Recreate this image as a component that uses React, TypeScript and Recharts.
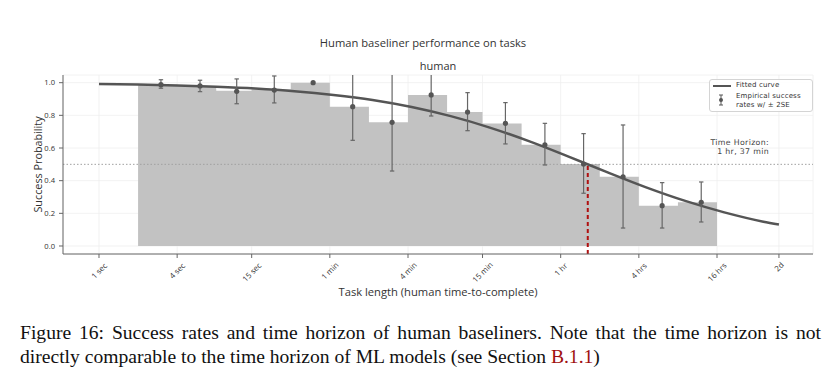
import React from 'react';
import {
  ComposedChart,
  Area,
  Line,
  Scatter,
  XAxis,
  YAxis,
  CartesianGrid,
  ReferenceLine,
} from 'recharts';

// ---- data (time values in seconds) ----
const tickSeconds = [1, 4, 15, 60, 240, 900, 3600, 14400, 57600, 172800];
const tickLabels = ['1 sec', '4 sec', '15 sec', '1 min', '4 min', '15 min', '1 hr', '4 hrs', '16 hrs', '2d'];
const yTicks = [0, 0.2, 0.4, 0.6, 0.8, 1.0];

const binEdgesSec = [2, 4, 8, 15, 30, 60, 120, 240, 480, 900, 1800, 3600, 7200, 14400, 28800, 57600];
const binRates = [0.988, 0.98, 0.95, 0.96, 1.0, 0.853, 0.757, 0.925, 0.82, 0.75, 0.62, 0.502, 0.424, 0.247, 0.268];

const pointSec = [3, 6, 11.5, 22.4, 44.6, 90, 181, 362, 690, 1351, 2721, 5404, 10884, 21770, 43540];
const pointRates = [0.988, 0.98, 0.947, 0.955, 1.0, 0.853, 0.757, 0.925, 0.82, 0.751, 0.62, 0.502, 0.424, 0.247, 0.268];
const errLow = [0.022, 0.035, 0.076, 0.079, 0, 0.206, 0.298, 0.129, 0.114, 0.126, 0.124, 0.179, 0.314, 0.137, 0.121];
const errHigh = [0.03, 0.035, 0.076, 0.086, 0, 0.206, 0.298, 0.129, 0.119, 0.127, 0.131, 0.186, 0.317, 0.141, 0.124];

const curveSec = [1, 2, 4, 8, 16, 32, 64, 128, 256, 512, 1024, 2048, 4096, 8192, 16384, 32768, 65536, 131072, 172800];
const curveProb = [0.992, 0.9885, 0.983, 0.975, 0.964, 0.948, 0.925, 0.894, 0.851, 0.795, 0.725, 0.642, 0.549, 0.452, 0.359, 0.276, 0.206, 0.149, 0.131];

const horizonSec = 5820; // 1 hr, 37 min
const horizonProb = 0.5;

const Y_MIN = -0.049;
const Y_MAX = 1.047;

// ---- derived tables ----
const lg = (s: number) => Math.log2(s);
const tickX = tickSeconds.map(lg);
const barData = binEdgesSec.map((s, i) => ({ x: lg(s), v: binRates[Math.min(i, binRates.length - 1)] }));
const pointData = pointSec.map((s, i) => ({ x: lg(s), y: pointRates[i] }));
const errorSegments = pointSec
  .map((s, i) => ({ i, lo: pointRates[i] - errLow[i], hi: pointRates[i] + errHigh[i], x: lg(s) }))
  .filter((e) => e.hi > e.lo)
  .map((e) => ({ key: e.i, data: [{ x: e.x, e: e.lo }, { x: e.x, e: e.hi }] }));
const curveData = curveSec.map((s, i) => ({ x: lg(s), p: curveProb[i] }));
const labelFor = (v: number) => {
  const i = tickX.findIndex((t) => Math.abs(t - v) < 1e-6);
  return i >= 0 ? tickLabels[i] : '';
};

const FONT = '"Open Sans", "DejaVu Sans", sans-serif';
const SMALL_FONT = '"DejaVu Sans", "Open Sans", sans-serif';
const TICK_FS = 7.8;

const XTick = (props: any) => {
  const { x, y, payload } = props;
  const text = labelFor(payload.value);
  const L = text.length * 0.5 * TICK_FS;
  const w = (L + TICK_FS) * 0.707;
  const cy = y + w / 2;
  return (
    <text
      x={x}
      y={cy}
      textAnchor="middle"
      dominantBaseline="central"
      fontSize={TICK_FS}
      fill="#333"
      transform={`rotate(-45, ${x}, ${cy})`}
    >
      {text}
    </text>
  );
};

const Dot = (props: any) => <circle cx={props.cx} cy={props.cy} r={2.6} fill="#555" />;
const Cap = (props: any) => {
  const v = props.payload ? props.payload.e : props.value;
  if (v > Y_MAX || v < Y_MIN) return <g key={`${props.cx}-${props.cy}`} />;
  return (
    <line
      key={`${props.cx}-${props.cy}`}
      x1={props.cx - 2.2}
      x2={props.cx + 2.2}
      y1={props.cy}
      y2={props.cy}
      stroke="#666"
      strokeWidth={1.2}
    />
  );
};

const Txt = ({ cx, cy, size, children, color = '#333' }: any) => (
  <div
    style={{
      position: 'absolute',
      left: cx - 300,
      width: 600,
      top: cy - size * 0.6,
      lineHeight: `${size * 1.2}px`,
      fontSize: size,
      textAlign: 'center',
      color,
      whiteSpace: 'nowrap',
    }}
  >
    {children}
  </div>
);

const Abs = ({ left, top, size, children, right, color = '#333', lh, ls = 0, font }: any) => {
  const lineH = lh ?? size * 1.2;
  return (
    <div
      style={{
        position: 'absolute',
        left: right !== undefined ? right - 200 : left,
        width: right !== undefined ? 200 : undefined,
        top: top - lineH / 2,
        fontSize: size,
        fontFamily: font,
        lineHeight: `${lineH}px`,
        letterSpacing: ls,
        textAlign: right !== undefined ? 'right' : 'left',
        whiteSpace: 'nowrap',
        color,
      }}
    >
      {children}
    </div>
  );
};

export default function App() {
  return (
    <div
      style={{
        position: 'absolute',
        left: 0,
        top: 0,
        width: 834,
        height: 379,
        background: '#fff',
        fontFamily: FONT,
        overflow: 'hidden',
      }}
    >
      <div style={{ position: 'absolute', left: 0, top: 0 }}>
        <ComposedChart width={834} height={310} margin={{ top: 75, right: 21, bottom: 16, left: 33 }}>
          <CartesianGrid stroke="#efefef" strokeWidth={0.8} />
          <XAxis
            type="number"
            dataKey="x"
            domain={[-0.921, 18.27]}
            allowDataOverflow
            ticks={tickX}
            interval={0}
            tick={<XTick />}
            tickSize={4}
            tickMargin={3}
            height={40}
            stroke="#666"
            axisLine={{ stroke: '#666', strokeWidth: 1 }}
            tickLine={{ stroke: '#666' }}
          />
          <YAxis
            type="number"
            domain={[Y_MIN, Y_MAX]}
            allowDataOverflow
            ticks={yTicks}
            interval={0}
            tickFormatter={(v: number) => v.toFixed(1)}
            tick={{ fontSize: 7.6, fill: '#333' }}
            tickSize={4}
            tickMargin={4}
            width={30}
            axisLine={{ stroke: '#666', strokeWidth: 1 }}
            tickLine={{ stroke: '#666' }}
          />
          <Area
            data={barData}
            dataKey="v"
            type="stepAfter"
            baseValue={0}
            fill="#c2c2c2"
            fillOpacity={1}
            stroke="none"
            isAnimationActive={false}
          />
          <ReferenceLine y={horizonProb} stroke="#a0a0a0" strokeDasharray="1.5 2" strokeWidth={1} />
          <ReferenceLine
            segment={[
              { x: lg(horizonSec), y: Y_MIN },
              { x: lg(horizonSec), y: horizonProb },
            ]}
            stroke="#b01010"
            strokeWidth={2}
            strokeDasharray="4 3"
            ifOverflow="visible"
          />
          <Line
            data={curveData}
            dataKey="p"
            type="monotone"
            stroke="#555"
            strokeWidth={2.5}
            dot={false}
            activeDot={false}
            isAnimationActive={false}
          />
          {errorSegments.map((seg) => (
            <Line
              key={seg.key}
              data={seg.data}
              dataKey="e"
              stroke="#666"
              strokeWidth={1.2}
              dot={<Cap />}
              activeDot={false}
              isAnimationActive={false}
            />
          ))}
          <Scatter data={pointData} dataKey="y" shape={<Dot />} isAnimationActive={false} />
        </ComposedChart>
      </div>

      <Txt cx={423} cy={43} size={11.2}>Human baseliner performance on tasks</Txt>
      <Txt cx={438} cy={66} size={11}>human</Txt>
      <Txt cx={438} cy={292} size={11.2}>Task length (human time-to-complete)</Txt>
      <div
        style={{
          position: 'absolute',
          left: 37 - 100,
          top: 164 - 6.5,
          width: 200,
          lineHeight: '13px',
          fontSize: 10.8,
          textAlign: 'center',
          color: '#333',
          transform: 'rotate(-90deg)',
          transformOrigin: '100px 6.5px',
        }}
      >
        Success Probability
      </div>

      {/* time horizon annotation */}
      <Abs right={769} top={142.5} size={7.8} lh={9} ls={0.35} font={SMALL_FONT} color="#444">Time Horizon:</Abs>
      <Abs right={769} top={151.8} size={7.8} lh={9} ls={0.35} font={SMALL_FONT} color="#444">1 hr, 37 min</Abs>

      {/* legend */}
      <div
        style={{
          position: 'absolute',
          left: 709,
          top: 79,
          width: 104,
          height: 33,
          border: '1px solid #d4d4d4',
          borderRadius: 3,
          background: 'rgba(255,255,255,0.85)',
          boxSizing: 'border-box',
        }}
      />
      <div style={{ position: 'absolute', left: 713, top: 84.5, width: 18, height: 2, background: '#555' }} />
      <svg style={{ position: 'absolute', left: 717, top: 94 }} width={8} height={12}>
        <line x1={4} y1={1} x2={4} y2={11} stroke="#555" strokeWidth={1} />
        <line x1={2} y1={1} x2={6} y2={1} stroke="#555" strokeWidth={1} />
        <line x1={2} y1={11} x2={6} y2={11} stroke="#555" strokeWidth={1} />
        <circle cx={4} cy={6} r={2} fill="#555" />
      </svg>
      <Abs left={736} top={85.3} size={7} lh={8} ls={0.15} font={SMALL_FONT}>Fitted curve</Abs>
      <Abs left={736} top={96.2} size={7} lh={8} ls={0.15} font={SMALL_FONT}>Empirical success</Abs>
      <Abs left={736} top={104.6} size={7} lh={8} ls={0.15} font={SMALL_FONT}>rates w/ ± 2SE</Abs>

      {/* caption */}
      <div
        style={{
          position: 'absolute',
          left: 20,
          top: 321,
          width: 801,
          fontFamily: '"Liberation Serif", "Times New Roman", serif',
          fontSize: 19.6,
          lineHeight: '23.5px',
          color: '#111',
        }}
      >
        <div style={{ textAlign: 'justify', textAlignLast: 'justify', whiteSpace: 'nowrap' as any }}>
          Figure 16: Success rates and time horizon of human baseliners. Note that the time horizon is not
        </div>
        <div style={{ whiteSpace: 'nowrap' }}>
          directly comparable to the time horizon of ML models (see Section{' '}
          <span style={{ color: '#a01010' }}>B.1.1</span>)
        </div>
      </div>
    </div>
  );
}
